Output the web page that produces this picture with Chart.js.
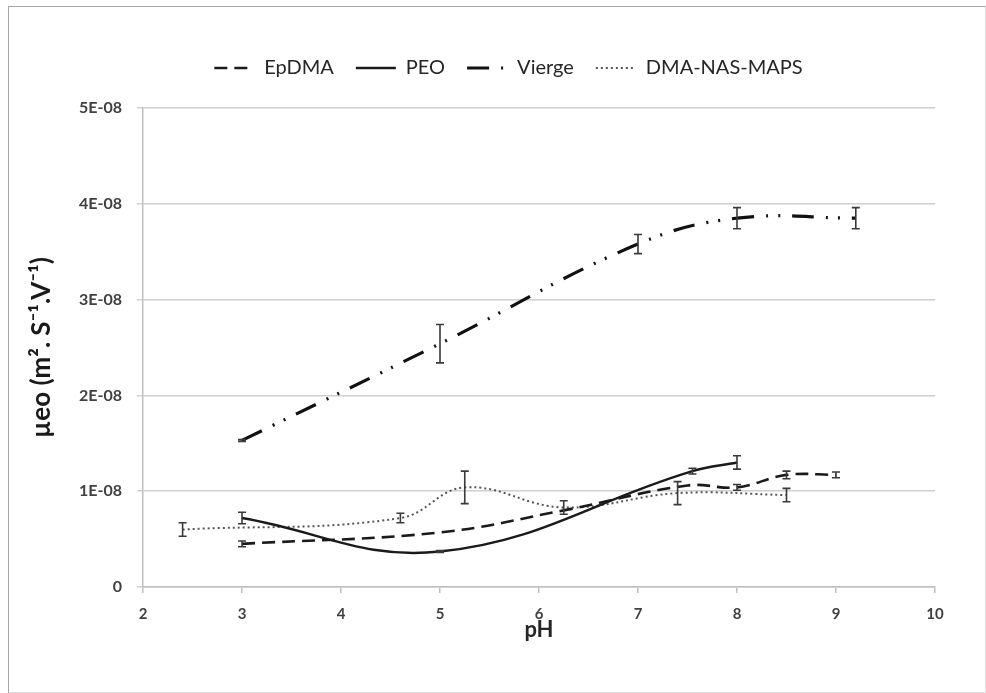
<!DOCTYPE html>
<html>
<head>
<meta charset="utf-8">
<script src="https://cdn.jsdelivr.net/npm/chart.js@4"></script>
<style>
  body { margin: 0; background: #fff; }
  #frame { position: absolute; left: 8px; top: 6px; width: 976px; height: 685px; border: 1px solid #a6a6a6; border-bottom-color: #e0e0e0; border-right-color: #e0e0e0; }
  #wrap { position: absolute; left: 0; top: 0; width: 986px; height: 693px; }
</style>
</head>
<body>
<div id="frame"></div>
<div id="wrap"><canvas id="chart" width="986" height="693"></canvas></div>
<script>
/*------ DATA (µeo values in m².S⁻¹.V⁻¹) ------*/
const seriesNames = ["EpDMA", "PEO", "Vierge", "DMA-NAS-MAPS"];

const epdmaPH = [3, 5, 6.25, 7.5, 8, 8.5, 9];
const epdmaMu = [0.45e-8, 0.57e-8, 0.80e-8, 1.06e-8, 1.04e-8, 1.17e-8, 1.17e-8];
const epdmaErr = [0.03e-8, 0, 0, 0, 0.03e-8, 0.04e-8, 0.03e-8];

const peoPH = [3, 5, 7.55, 8];
const peoMu = [0.72e-8, 0.37e-8, 1.21e-8, 1.30e-8];
const peoErr = [0.06e-8, 0.01e-8, 0.03e-8, 0.07e-8];

const viergePH = [3, 5, 7, 8, 9.2];
const viergeMu = [1.53e-8, 2.54e-8, 3.58e-8, 3.85e-8, 3.85e-8];
const viergeErr = [0.01e-8, 0.2e-8, 0.1e-8, 0.11e-8, 0.11e-8];

const dmaPH = [2.4, 4.6, 5.25, 6.25, 7.4, 8.5];
const dmaMu = [0.60e-8, 0.72e-8, 1.04e-8, 0.83e-8, 0.98e-8, 0.96e-8];
const dmaErr = [0.07e-8, 0.05e-8, 0.17e-8, 0.07e-8, 0.12e-8, 0.07e-8];

const xTicks = [2, 3, 4, 5, 6, 7, 8, 9, 10];
const yTicks = [0, 1e-8, 2e-8, 3e-8, 4e-8, 5e-8];

const toPoints = (xs, ys) => xs.map((x, i) => ({ x: x, y: ys[i] }));

/*------ ERROR BARS (drawn with the chart scales) ------*/
const errorBars = {
  id: "errorBars",
  afterDatasetsDraw(chart) {
    const ctx = chart.ctx;
    const xs = chart.scales.x;
    const ys = chart.scales.y;
    ctx.save();
    ctx.strokeStyle = "#3a3a3a";
    ctx.lineWidth = 1.6;
    chart.data.datasets.forEach((ds) => {
      ds.data.forEach((p, i) => {
        const e = ds.errors[i];
        if (!e) return;
        const px = xs.getPixelForValue(p.x);
        const top = ys.getPixelForValue(p.y + e);
        const bot = ys.getPixelForValue(p.y - e);
        ctx.beginPath();
        ctx.moveTo(px, top); ctx.lineTo(px, bot);
        ctx.moveTo(px - 4, top); ctx.lineTo(px + 4, top);
        ctx.moveTo(px - 4, bot); ctx.lineTo(px + 4, bot);
        ctx.stroke();
      });
    });
    ctx.restore();
  },
};

/*------ legend block height + shift ------*/
const legendBox = {
  id: "legendBox",
  beforeInit(chart) {
    const fit = chart.legend.fit;
    chart.legend.fit = function () {
      fit.call(this);
      this.height = 72;
    };
  },
  afterLayout(chart) {
    chart.legend.left += 30;
    chart.legend.right += 30;
  },
};

const ctx = document.querySelector("#chart").getContext("2d");

new Chart(ctx, {
  type: "line",
  data: {
    datasets: [
      {
        label: seriesNames[0],
        data: toPoints(epdmaPH, epdmaMu),
        errors: epdmaErr,
        borderColor: "#1a1a1a",
        borderWidth: 2.6,
        borderDash: [13, 7],
        tension: 0.4,
      },
      {
        label: seriesNames[1],
        data: toPoints(peoPH, peoMu),
        errors: peoErr,
        borderColor: "#1a1a1a",
        borderWidth: 2.4,
        tension: 0.4,
      },
      {
        label: seriesNames[2],
        data: toPoints(viergePH, viergeMu),
        errors: viergeErr,
        borderColor: "#111",
        borderWidth: 3.2,
        borderDash: [22, 12, 2, 10, 2, 12],
        tension: 0.4,
      },
      {
        label: seriesNames[3],
        data: toPoints(dmaPH, dmaMu),
        errors: dmaErr,
        borderColor: "#555",
        borderWidth: 2,
        borderDash: [2, 3],
        tension: 0.4,
      },
    ],
  },
  options: {
    responsive: false,
    animation: false,
    layout: { padding: { top: 36, right: 51, left: 22, bottom: 46 } },
    elements: { point: { radius: 0, hoverRadius: 0 } },
    plugins: {
      tooltip: { enabled: false },
      legend: {
        position: "top",
        labels: {
          usePointStyle: true,
          pointStyle: "line",
          pointStyleWidth: 40,
          boxWidth: 40,
          boxHeight: 14,
          padding: 22,
          color: "#262626",
          font: { family: "Lato", size: 20 },
          generateLabels: (chart) => {
            const items = Chart.defaults.plugins.legend.labels.generateLabels(chart);
            items.forEach((it) => {
              const ds = chart.data.datasets[it.datasetIndex];
              it.lineDash = ds.borderDash || [];
              it.lineWidth = ds.borderWidth;
              it.strokeStyle = ds.borderColor;
            });
            return items;
          },
        },
      },
    },
    scales: {
      x: {
        type: "linear",
        min: xTicks[0],
        max: xTicks[xTicks.length - 1],
        afterBuildTicks: (s) => { s.ticks = xTicks.map((v) => ({ value: v })); },
        afterFit: (s) => { s.height = 60; },
        ticks: {
          color: "#404040",
          font: { family: "Lato", size: 15, weight: "bold" },
          padding: 12,
        },
        grid: { drawOnChartArea: false, color: "#bfbfbf", tickLength: 6, lineWidth: 1.5 },
        border: { color: "#bfbfbf", width: 1.5 },
        title: {
          display: true,
          text: "pH",
          color: "#262626",
          font: { family: "Lato", size: 22, weight: "bold" },
          padding: { top: 3 },
        },
      },
      y: {
        min: yTicks[0],
        max: yTicks[yTicks.length - 1],
        afterBuildTicks: (s) => { s.ticks = yTicks.map((v) => ({ value: v })); },
        afterFit: (s) => { s.width = 121; },
        ticks: {
          color: "#404040",
          font: { family: "Lato", size: 16, weight: "bold" },
          padding: 15,
          callback: (v) => (v === 0 ? "0" : Math.round(v / 1e-8) + "E-08"),
        },
        grid: { color: "#d0d0d0", lineWidth: 1.5, tickLength: 6 },
        border: { color: "#bfbfbf", width: 1.5 },
        title: {
          display: true,
          text: "µeo (m². S⁻¹.V⁻¹)",
          color: "#1a1a1a",
          font: { family: "Lato", size: 26, weight: "bold" },
          padding: { bottom: 2 },
        },
      },
    },
  },
  plugins: [errorBars, legendBox],
});
</script>
</body>
</html>
